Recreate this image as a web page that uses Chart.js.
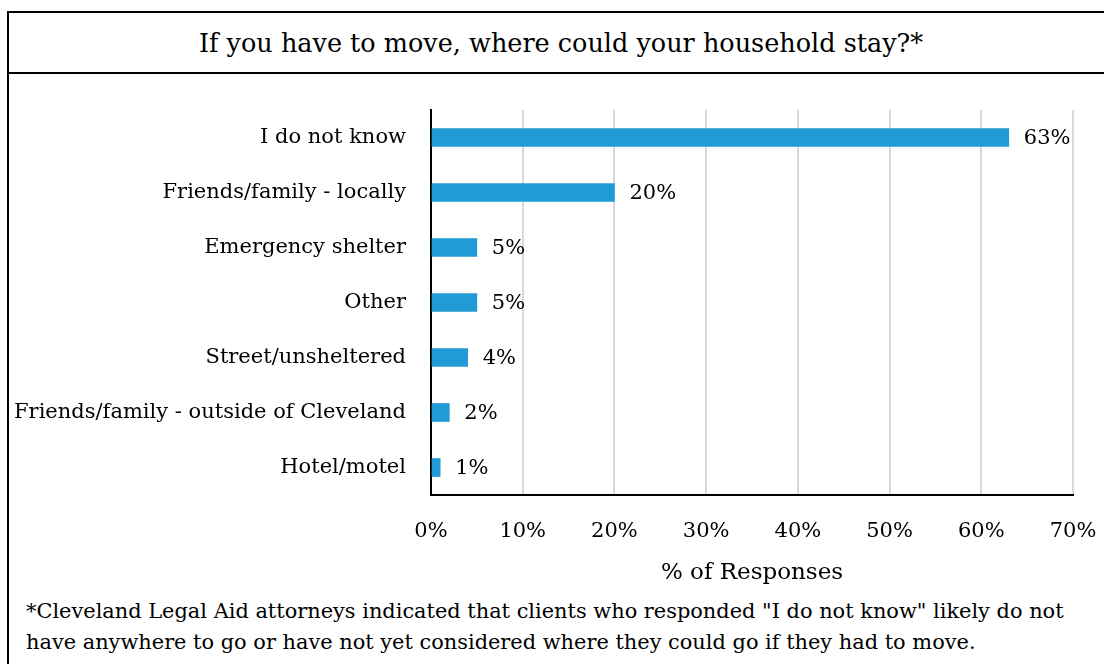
<!DOCTYPE html>
<html>
<head>
<meta charset="utf-8">
<script src="https://cdn.jsdelivr.net/npm/chart.js@4"></script>
<style>
  html, body { margin: 0; padding: 0; background: #fff; }
  body { width: 1104px; height: 664px; position: relative; overflow: hidden; font-family: "DejaVu Serif", serif; }
  .frame { position: absolute; left: 7px; top: 11px; width: 1110px; height: 700px; border: 2px solid #000; box-sizing: border-box; }
  .title { position: absolute; left: 0; top: 0; width: 1104px; height: 61px; border-bottom: 2px solid #000; box-sizing: border-box; }
  .title span { position: absolute; left: 552px; top: 30px; transform: translate(-50%, -50%); font-size: 25.5px; white-space: nowrap; color: #000; }
  .note { position: absolute; left: 26px; top: 596px; font-size: 20.9px; line-height: 31px; white-space: nowrap; color: #000; }
  #chart { position: absolute; left: 0; top: 0; }
</style>
</head>
<body>
<div class="frame"><div class="title"><span>If you have to move, where could your household stay?*</span></div></div>
<div class="note">*Cleveland Legal Aid attorneys indicated that clients who responded "I do not know" likely do not<br>have anywhere to go or have not yet considered where they could go if they had to move.</div>
<canvas id="chart" width="1104" height="664"></canvas>
<script>
// data
const categories = ['I do not know', 'Friends/family - locally', 'Emergency shelter', 'Other',
    'Street/unsheltered', 'Friends/family - outside of Cleveland', 'Hotel/motel'];
const responsePct = [63, 20, 5, 5, 4, 2, 1];
const axisMax = 70;
const axisStep = 10;
const axisTitle = '% of Responses';

const FONT = '"DejaVu Serif", serif';

// value labels to the right of each bar
const barLabels = {
    id: 'barLabels',
    afterDatasetsDraw(chart) {
        const ctx = chart.ctx;
        const meta = chart.getDatasetMeta(0);
        ctx.save();
        ctx.font = '21px ' + FONT;
        ctx.fillStyle = '#000';
        ctx.textAlign = 'left';
        ctx.textBaseline = 'middle';
        meta.data.forEach((bar, i) => {
            ctx.fillText(responsePct[i] + '%', bar.x + 15, bar.y + 1);
        });
        ctx.restore();
    }
};

Chart.defaults.font.family = FONT;
Chart.defaults.color = '#000';

new Chart(document.getElementById('chart'), {
    type: 'bar',
    data: {
        labels: categories,
        datasets: [{
            data: responsePct,
            backgroundColor: '#219bd6',
            barThickness: 18
        }]
    },
    options: {
        indexAxis: 'y',
        responsive: false,
        animation: false,
        layout: { padding: { left: 0, right: 31, top: 110, bottom: 77 } },
        plugins: {
            legend: { display: false },
            tooltip: { enabled: false }
        },
        scales: {
            x: {
                min: 0,
                max: axisMax,
                ticks: {
                    stepSize: axisStep,
                    padding: 24,
                    font: { size: 21 },
                    callback: v => v + '%'
                },
                grid: { color: '#d9d9d9', lineWidth: 2, drawTicks: false },
                border: { color: '#000', width: 2 },
                title: { display: true, text: axisTitle, font: { size: 23 }, padding: { top: 0, bottom: 0 } },
                afterFit(scale) {
                    scale.height = 92;
                    scale.paddingLeft = 0;
                    scale.paddingRight = 0;
                }
            },
            y: {
                ticks: { padding: 25, font: { size: 21 } },
                grid: { display: false, drawTicks: false },
                border: { color: '#000', width: 2 },
                afterFit(scale) {
                    scale.width = 431;
                    scale.paddingTop = 0;
                    scale.paddingBottom = 0;
                }
            }
        }
    },
    plugins: [barLabels]
});
</script>
</body>
</html>
